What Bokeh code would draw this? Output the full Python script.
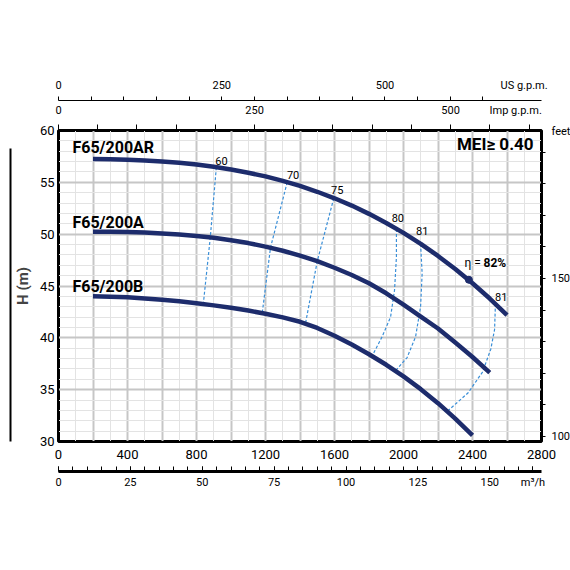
from bokeh.plotting import figure
from bokeh.models import Range1d, LinearAxis, FixedTicker
from bokeh.core.properties import value
from bokeh.embed import file_html
from bokeh.resources import INLINE

FONT = "Roboto"
NAVY = "#1d2c6c"
DASH = "#3a8fd8"

# ---- data (flow in l/min on main axis, head in m) ----
q_ar = [200, 300, 400, 500, 600, 700, 800, 900, 1000, 1100, 1200, 1300, 1400,
        1500, 1600, 1700, 1800, 1900, 2000, 2100, 2200, 2300, 2400, 2500, 2600]
h_ar = [57.24, 57.22, 57.18, 57.11, 57.02, 56.89, 56.72, 56.5, 56.24, 55.93, 55.57, 55.14, 54.65,
        54.09, 53.46, 52.76, 51.96, 51.08, 50.12, 49.06, 47.9, 46.64, 45.27, 43.79, 42.2]
q_a = [200, 300, 400, 500, 600, 700, 800, 900, 1000, 1100, 1200, 1300, 1400,
       1500, 1600, 1700, 1800, 1900, 2000, 2100, 2200, 2300, 2400, 2500]
h_a = [50.24, 50.23, 50.2, 50.15, 50.07, 49.97, 49.83, 49.65, 49.42, 49.14, 48.8, 48.4, 47.93,
       47.39, 46.76, 46.06, 45.26, 44.3, 43.2, 42.05, 40.9, 39.55, 38.15, 36.65]
q_b = [200, 300, 400, 500, 600, 700, 800, 900, 1000, 1100, 1200, 1300, 1400,
       1500, 1600, 1700, 1800, 1900, 2000, 2100, 2200, 2300, 2400]
h_b = [44.0, 43.97, 43.92, 43.8, 43.68, 43.52, 43.34, 43.13, 42.9, 42.63, 42.33, 41.97, 41.55,
       40.95, 40.2, 39.35, 38.42, 37.4, 36.28, 35.05, 33.7, 32.2, 30.6]
curve_names = ["F65/200AR", "F65/200A", "F65/200B"]

# iso-efficiency lines
eff60_q = [915, 880, 840]
eff60_h = [56.45, 49.7, 43.35]
eff70_q = [1326, 1229, 1181]
eff70_h = [55.02, 48.7, 42.38]
eff75_q = [1596, 1500, 1432]
eff75_h = [53.48, 47.39, 41.4]
eff80_q = [1959, 1959, 1948, 1925, 1876, 1818]
eff80_h = [50.5, 47.8, 44.6, 42.0, 40.1, 38.25]
eff81a_q = [2099, 2108, 2099, 2070, 2021, 1954]
eff81a_h = [49.07, 46.2, 43.0, 40.1, 38.1, 36.83]
eff81b_q = [2533, 2528, 2506, 2458, 2375, 2253]
eff81b_h = [43.3, 40.8, 38.9, 36.7, 34.7, 32.9]
eff_labels = ["60", "70", "75", "80", "81", "81"]
best_q = [2379]
best_h = [45.6]

x_ticks = [0, 400, 800, 1200, 1600, 2000, 2400, 2800]
y_ticks = [30, 35, 40, 45, 50, 55, 60]
us_ticks = [0, 250, 500]
imp_ticks = [0, 250, 500]
m3h_ticks = [0, 25, 50, 75, 100, 125, 150]
ft_ticks = [100, 150]

p = figure(frame_width=483, frame_height=311, x_range=Range1d(0, 2800), y_range=Range1d(30, 60),
           output_backend="svg", toolbar_location=None,
           min_border_left=58, min_border_right=25, min_border_top=130, min_border_bottom=60)
p.outline_line_color = "black"
p.outline_line_width = 3
p.background_fill_color = "white"

p.extra_x_ranges = {"us": Range1d(0, 2800 / 3.785411784),
                    "imp": Range1d(0, 2800 / 4.54609),
                    "m3h": Range1d(0, 168)}
p.extra_y_ranges = {"ft": Range1d(30 / 0.3048, 60 / 0.3048)}

# grids
p.xgrid.ticker = FixedTicker(ticks=list(range(0, 2801, 200)), minor_ticks=list(range(0, 2801, 100)))
p.ygrid.ticker = FixedTicker(ticks=list(range(30, 61, 5)), minor_ticks=list(range(30, 61, 1)))
for g in (p.xgrid, p.ygrid):
    g.grid_line_color = "#c6c6c6"
    g.grid_line_width = 2
    g.minor_grid_line_color = "#e3e3e3"
    g.minor_grid_line_width = 1

def style(ax, size):
    ax.major_label_text_font = FONT
    ax.major_label_text_font_size = size
    ax.major_label_text_color = "black"

# main bottom axis (l/min)
xa = p.xaxis[0]
xa.ticker = FixedTicker(ticks=x_ticks)
xa.axis_line_color = "black"
xa.axis_line_width = 1
xa.major_tick_line_color = "black"
xa.minor_tick_line_color = "black"
xa.major_tick_out = 0
xa.major_tick_in = 0
xa.minor_tick_out = 0
xa.minor_tick_in = 0
xa.major_label_standoff = 8
style(xa, "13px")
xa.axis_label = " "
xa.axis_label_text_font_size = "6px"
xa.axis_label_text_color = "white"
xa.axis_label_standoff = 1

# main left axis (m)
ya = p.yaxis[0]
ya.ticker = FixedTicker(ticks=y_ticks)
ya.axis_line_color = "black"
ya.major_tick_line_color = "black"
ya.minor_tick_line_color = "black"
ya.major_tick_out = 0
ya.major_tick_in = 0
ya.minor_tick_out = 0
ya.minor_tick_in = 0
ya.major_label_standoff = 4
style(ya, "13px")
ya.axis_label = "H (m)"
ya.axis_label_text_font = FONT
ya.axis_label_text_font_style = "bold"
ya.axis_label_text_font_size = "15px"
ya.axis_label_standoff = 5

# vertical decoration line at far left
line_ax = LinearAxis(ticker=FixedTicker(ticks=[]), bounds=(30, 58.3),
                     axis_line_color="black", axis_line_width=2,
                     major_tick_out=0, major_tick_in=0, minor_tick_out=0, minor_tick_in=0,
                     major_label_standoff=0)
p.add_layout(line_ax, "left")

# m3/h axis: line with ticks pointing up
m3 = LinearAxis(x_range_name="m3h",
                ticker=FixedTicker(ticks=m3h_ticks + [165], minor_ticks=list(range(0, 166, 5))),
                major_label_overrides={165: "m³/h"},
                axis_line_color="black", axis_line_width=3,
                major_tick_line_color="black", major_tick_out=0, major_tick_in=5,
                minor_tick_line_color="black", minor_tick_in=5, minor_tick_out=0,
                major_label_standoff=4)
style(m3, "11px")
p.add_layout(m3, "below")

# Imp gpm axis (on frame top)
imp = LinearAxis(x_range_name="imp",
                 ticker=FixedTicker(ticks=imp_ticks + [583], minor_ticks=list(range(0, 601, 50))),
                 major_label_overrides={583: "Imp g.p.m."},
                 axis_line_color="black", axis_line_width=1,
                 major_tick_line_color="black", major_tick_out=0, major_tick_in=0,
                 minor_tick_line_color="black", minor_tick_out=6, minor_tick_in=0,
                 major_label_standoff=8)
style(imp, "11px")
p.add_layout(imp, "above")

# US gpm axis
us = LinearAxis(x_range_name="us",
                ticker=FixedTicker(ticks=us_ticks + [713], minor_ticks=list(range(0, 651, 50))),
                major_label_overrides={713: "US g.p.m."},
                axis_line_color="black", axis_line_width=1,
                major_tick_line_color="black", major_tick_out=0, major_tick_in=0,
                minor_tick_line_color="black", minor_tick_out=4, minor_tick_in=0,
                major_label_standoff=5)
style(us, "11px")
p.add_layout(us, "above")

# feet axis
ft = LinearAxis(y_range_name="ft",
                ticker=FixedTicker(ticks=ft_ticks + [196.5], minor_ticks=list(range(100, 191, 10))),
                major_label_overrides={196.5: "feet"},
                axis_line_color="black", axis_line_width=1,
                major_tick_line_color="black", major_tick_out=0, major_tick_in=0,
                minor_tick_line_color="black", minor_tick_out=4, minor_tick_in=0,
                major_label_standoff=6)
style(ft, "11px")
p.add_layout(ft, "right")

# efficiency dashed lines
for qq, hh in [(eff60_q, eff60_h), (eff70_q, eff70_h), (eff75_q, eff75_h),
               (eff80_q, eff80_h), (eff81a_q, eff81a_h), (eff81b_q, eff81b_h)]:
    p.line(qq, hh, line_color=DASH, line_width=1.2, line_dash="3 2")

# pump curves
for qq, hh in [(q_ar, h_ar), (q_a, h_a), (q_b, h_b)]:
    p.line(qq, hh, line_color=NAVY, line_width=4.5, line_join="round")

p.scatter(best_q, best_h, size=7, fill_color=NAVY, line_color=NAVY)

# curve names
p.text(x=[81, 81, 81], y=[58.4, 51.15, 44.95], text=curve_names,
       text_font=value(FONT), text_font_style="bold", text_font_size="16px",
       text_color="black", text_align="left", text_baseline="middle")

# efficiency labels
p.text(x=[945, 1360, 1616, 1967, 2108, 2566], y=[57.1, 55.75, 54.27, 51.57, 50.35, 43.98],
       text=eff_labels, text_font=value(FONT), text_font_size="11px",
       text_color="black", text_align="center", text_baseline="middle")

p.text(x=[2448], y=[47.19], text=["η ="], text_font=value(FONT), text_font_size="12px",
       text_color="black", text_align="right", text_baseline="middle")
p.text(x=[2464], y=[47.19], text=["82%"], text_font=value(FONT), text_font_size="12px",
       text_font_style="bold", text_color="black", text_align="left", text_baseline="middle")

p.text(x=[2754], y=[58.69], text=["MEI≥ 0.40"], text_font=value(FONT), text_font_size="17px",
       text_font_style="bold", text_color="black", text_align="right", text_baseline="middle")

open("out.html", "w").write(file_html(p, INLINE))
